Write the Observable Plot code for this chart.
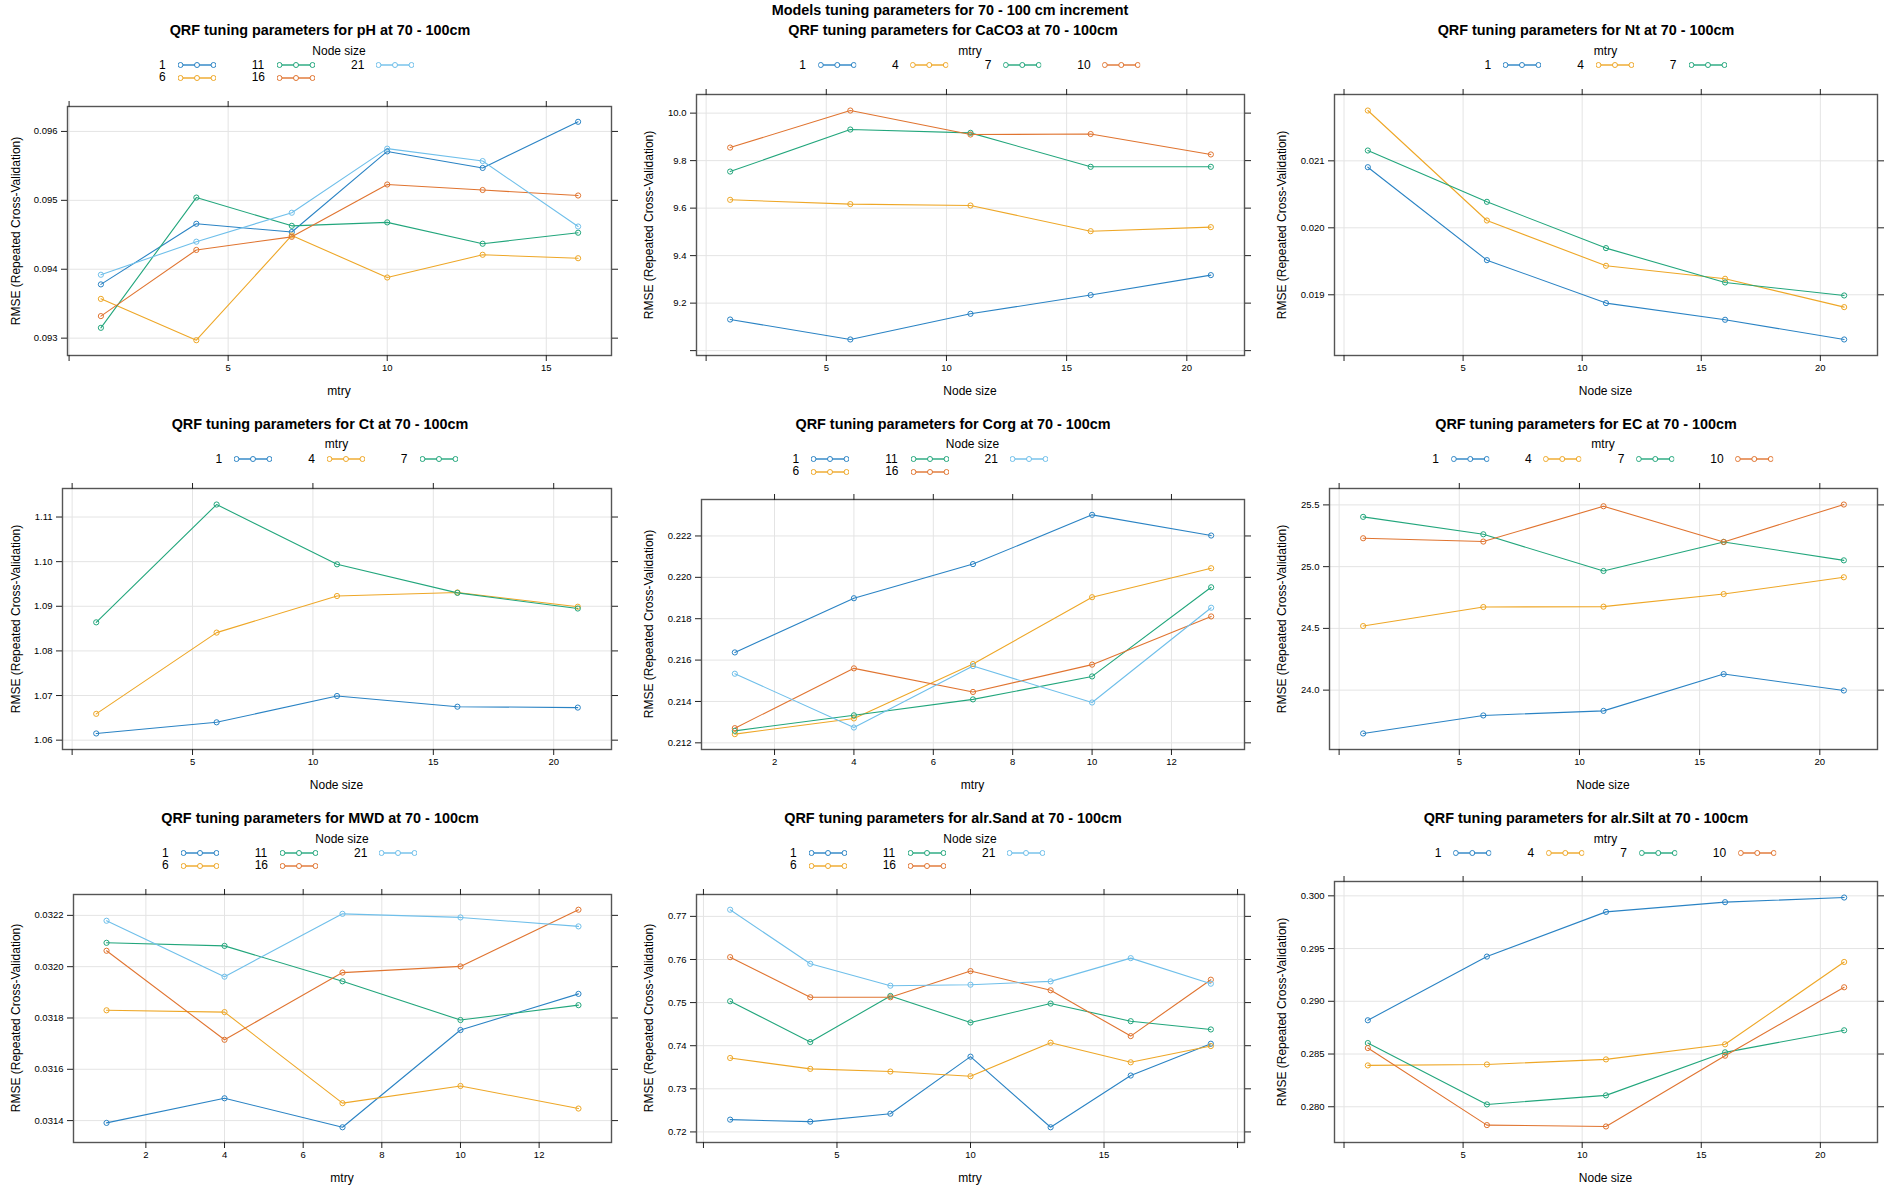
<!DOCTYPE html>
<html>
<head>
<meta charset="utf-8">
<script src="https://cdn.jsdelivr.net/npm/d3@7"></script>
<script src="https://cdn.jsdelivr.net/npm/@observablehq/plot@0.6"></script>
<style>
  body { margin: 0; background: #fff; font-family: "Liberation Sans", Arial, Helvetica, sans-serif; color: #000; }
  #page { position: relative; width: 1900px; height: 1200px; overflow: hidden; background: #fff; }
  .abs { position: absolute; white-space: nowrap; }
  .ctr { transform: translate(-50%, -50%); }
  .ptitle { font-weight: bold; font-size: 14.4px; }
  .lbl { font-size: 12px; }
  .ylab { font-size: 12px; transform: translate(-50%, -50%) rotate(-90deg); }
  .legcol { display: grid; grid-template-columns: auto 38px; column-gap: 12px; grid-auto-rows: 12.5px; align-items: center; font-size: 12px; line-height: 12.5px; }
  .legitems { display: flex; column-gap: 36px; }
</style>
</head>
<body>
<div id="page"></div>
<script>
// ---------------- data ----------------
const mainTitle = "Models tuning parameters for 70 - 100 cm increment";
const nodeSizeGroups = ["1", "6", "11", "16", "21"];
const mtryGroups3 = ["1", "4", "7"];
const mtryGroups4 = ["1", "4", "7", "10"];
const nodeSizeX = [1, 6, 11, 16, 21];

// pH : x = mtry, groups = node size
const pH_x = [1, 4, 7, 10, 13, 16];
const pH_rmse = [
  [0.09378, 0.09466, 0.09454, 0.09571, 0.09547, 0.09614],
  [0.09357, 0.09297, 0.09449, 0.09388, 0.09421, 0.09416],
  [0.09315, 0.09504, 0.09463, 0.09468, 0.09437, 0.09453],
  [0.09332, 0.09428, 0.09447, 0.09523, 0.09515, 0.09507],
  [0.09392, 0.09440, 0.09482, 0.09575, 0.09557, 0.09462]
];
const pH_xTicks = [0, 5, 10, 15];
const pH_yTicks = [0.093, 0.094, 0.095, 0.096];

// CaCO3 : x = node size, groups = mtry
const CaCO3_rmse = [
  [9.131, 9.047, 9.155, 9.234, 9.318],
  [9.635, 9.617, 9.611, 9.503, 9.520],
  [9.754, 9.931, 9.917, 9.774, 9.774],
  [9.855, 10.011, 9.910, 9.912, 9.826]
];
const CaCO3_xTicks = [0, 5, 10, 15, 20];
const CaCO3_yTicks = [9.0, 9.2, 9.4, 9.6, 9.8, 10.0];

// Nt
const Nt_rmse = [
  [0.020905, 0.019517, 0.018876, 0.018627, 0.018333],
  [0.021751, 0.020109, 0.019433, 0.019239, 0.018816],
  [0.021154, 0.020388, 0.019697, 0.019184, 0.018990]
];
const Nt_xTicks = [0, 5, 10, 15, 20];
const Nt_yTicks = [0.019, 0.020, 0.021];

// Ct
const Ct_rmse = [
  [1.0615, 1.0640, 1.0699, 1.0675, 1.0673],
  [1.0659, 1.0841, 1.0923, 1.0931, 1.0899],
  [1.0864, 1.1128, 1.0994, 1.0930, 1.0895]
];
const Ct_xTicks = [0, 5, 10, 15, 20];
const Ct_yTicks = [1.06, 1.07, 1.08, 1.09, 1.10, 1.11];

// Corg : x = mtry, groups = node size
const Corg_x = [1, 4, 7, 10, 13];
const Corg_rmse = [
  [0.21637, 0.21899, 0.22064, 0.22302, 0.22202],
  [0.21242, 0.21318, 0.21581, 0.21904, 0.22044],
  [0.21258, 0.21333, 0.21410, 0.21521, 0.21952],
  [0.21271, 0.21560, 0.21446, 0.21578, 0.21811],
  [0.21534, 0.21274, 0.21571, 0.21395, 0.21853]
];
const Corg_xTicks = [2, 4, 6, 8, 10, 12];
const Corg_yTicks = [0.212, 0.214, 0.216, 0.218, 0.220, 0.222];

// EC
const EC_rmse = [
  [23.649, 23.795, 23.832, 24.130, 23.997],
  [24.519, 24.673, 24.676, 24.778, 24.914],
  [25.403, 25.262, 24.965, 25.200, 25.051],
  [25.230, 25.203, 25.489, 25.200, 25.503]
];
const EC_xTicks = [0, 5, 10, 15, 20];
const EC_yTicks = [24.0, 24.5, 25.0, 25.5];

// MWD : x = mtry, groups = node size
const MWD_x = [1, 4, 7, 10, 13];
const MWD_rmse = [
  [0.031391, 0.031487, 0.031374, 0.031753, 0.031894],
  [0.031830, 0.031823, 0.031468, 0.031535, 0.031447],
  [0.032093, 0.032081, 0.031943, 0.031792, 0.031850],
  [0.032062, 0.031715, 0.031977, 0.032001, 0.032222],
  [0.032179, 0.031961, 0.032206, 0.032192, 0.032157]
];
const MWD_xTicks = [2, 4, 6, 8, 10, 12];
const MWD_yTicks = [0.0314, 0.0316, 0.0318, 0.0320, 0.0322];

// alr.Sand : x = mtry, groups = node size
const Sand_x = [1, 4, 7, 10, 13, 16, 19];
const Sand_rmse = [
  [0.72285, 0.72238, 0.72423, 0.73746, 0.72108, 0.73308, 0.74046],
  [0.73715, 0.73462, 0.73400, 0.73292, 0.74069, 0.73615, 0.73992],
  [0.75031, 0.74085, 0.75154, 0.74538, 0.74977, 0.74569, 0.74377],
  [0.76054, 0.75123, 0.75123, 0.75731, 0.75285, 0.74223, 0.75531],
  [0.77154, 0.75900, 0.75392, 0.75415, 0.75492, 0.76031, 0.75438]
];
const Sand_xTicks = [0, 5, 10, 15, 20];
const Sand_yTicks = [0.72, 0.73, 0.74, 0.75, 0.76, 0.77];

// alr.Silt : x = node size, groups = mtry
const Silt_rmse = [
  [0.28820, 0.29424, 0.29848, 0.29940, 0.29984],
  [0.28392, 0.28401, 0.28449, 0.28592, 0.29373],
  [0.28604, 0.28022, 0.28108, 0.28516, 0.28725],
  [0.28557, 0.27826, 0.27813, 0.28484, 0.29133]
];
const Silt_xTicks = [0, 5, 10, 15, 20];
const Silt_yTicks = [0.280, 0.285, 0.290, 0.295, 0.300];

// ---------------- panel table (built from the arrays above) ----------------
const panels = [
  { name: "pH",       xLabel: "mtry",      legTitle: "Node size", groups: nodeSizeGroups, x: pH_x,      rmse: pH_rmse,    xTicks: pH_xTicks,    yTicks: pH_yTicks },
  { name: "CaCO3",    xLabel: "Node size", legTitle: "mtry",      groups: mtryGroups4,    x: nodeSizeX, rmse: CaCO3_rmse, xTicks: CaCO3_xTicks, yTicks: CaCO3_yTicks },
  { name: "Nt",       xLabel: "Node size", legTitle: "mtry",      groups: mtryGroups3,    x: nodeSizeX, rmse: Nt_rmse,    xTicks: Nt_xTicks,    yTicks: Nt_yTicks },
  { name: "Ct",       xLabel: "Node size", legTitle: "mtry",      groups: mtryGroups3,    x: nodeSizeX, rmse: Ct_rmse,    xTicks: Ct_xTicks,    yTicks: Ct_yTicks },
  { name: "Corg",     xLabel: "mtry",      legTitle: "Node size", groups: nodeSizeGroups, x: Corg_x,    rmse: Corg_rmse,  xTicks: Corg_xTicks,  yTicks: Corg_yTicks },
  { name: "EC",       xLabel: "Node size", legTitle: "mtry",      groups: mtryGroups4,    x: nodeSizeX, rmse: EC_rmse,    xTicks: EC_xTicks,    yTicks: EC_yTicks },
  { name: "MWD",      xLabel: "mtry",      legTitle: "Node size", groups: nodeSizeGroups, x: MWD_x,     rmse: MWD_rmse,   xTicks: MWD_xTicks,   yTicks: MWD_yTicks },
  { name: "alr.Sand", xLabel: "mtry",      legTitle: "Node size", groups: nodeSizeGroups, x: Sand_x,    rmse: Sand_rmse,  xTicks: Sand_xTicks,  yTicks: Sand_yTicks },
  { name: "alr.Silt", xLabel: "Node size", legTitle: "mtry",      groups: mtryGroups4,    x: nodeSizeX, rmse: Silt_rmse,  xTicks: Silt_xTicks,  yTicks: Silt_yTicks }
];

// ---------------- layout & style ----------------
const palette = ["#2a83c4", "#eea727", "#22a67c", "#e07430", "#6fbfea"];
const colLeft = [0, 633, 1266];
const colWidth = [633, 633, 634];
const rowTop = [0, 400, 800];
const boxLefts = [67, 63, 68, 62, 68, 63, 73, 63, 68];
const boxRight = 611;
const rowTitleY = [30, 24, 18];
const rowLegTitleY = [51, 44, 39];
const rowLegY = [65, 59, 53];
const rowBoxTop1 = [94, 88, 81];
const rowBoxTop2 = [106, 99, 94];
const rowBoxBottom = [355, 349, 342];
const FONT = '"Liberation Sans", Arial, Helvetica, sans-serif';

const page = document.getElementById("page");

function addDiv(cls, text, left, top) {
  const d = document.createElement("div");
  d.className = "abs " + cls;
  d.textContent = text;
  d.style.left = left + "px";
  d.style.top = top + "px";
  page.appendChild(d);
  return d;
}

addDiv("ctr ptitle", mainTitle, 950, 10);

function swatch(color) {
  const ns = "http://www.w3.org/2000/svg";
  const s = document.createElementNS(ns, "svg");
  s.setAttribute("width", 38); s.setAttribute("height", 12);
  const l = document.createElementNS(ns, "line");
  l.setAttribute("x1", 2.5); l.setAttribute("x2", 35.5); l.setAttribute("y1", 6); l.setAttribute("y2", 6);
  l.setAttribute("stroke", color); l.setAttribute("stroke-width", 2); l.setAttribute("stroke-opacity", 0.7);
  s.appendChild(l);
  [2.5, 19, 35.5].forEach(cx => {
    const c = document.createElementNS(ns, "circle");
    c.setAttribute("cx", cx); c.setAttribute("cy", 6); c.setAttribute("r", 2.5);
    c.setAttribute("fill", "#fff"); c.setAttribute("stroke", color); c.setAttribute("stroke-width", 1);
    s.appendChild(c);
  });
  return s;
}

panels.forEach((p, idx) => {
  const r = Math.floor(idx / 3), c = idx % 3;
  const L = colLeft[c], T = rowTop[r], W = colWidth[c];
  const twoRows = p.groups.length > 4;
  const boxTop = twoRows ? rowBoxTop2[r] : rowBoxTop1[r];
  const boxBottom = rowBoxBottom[r];
  const boxLeft = boxLefts[idx];
  const boxCx = L + (boxLeft + boxRight) / 2;

  // titles
  addDiv("ctr ptitle", `QRF tuning parameters for ${p.name} at 70 - 100cm`, L + 320, T + rowTitleY[r]);
  addDiv("ctr lbl", p.legTitle, boxCx, T + rowLegTitleY[r]);

  // legend
  const items = document.createElement("div");
  items.className = "abs legitems";
  items.style.top = (T + rowLegY[r] - 6.25) + "px";
  if (twoRows) {
    items.style.left = (boxCx - 180) + "px";
  } else {
    items.style.left = boxCx + "px";
    items.style.transform = "translateX(-50%)";
  }
  const cols = [];
  if (twoRows) {
    for (let i = 0; i < p.groups.length; i += 2) cols.push([i, i + 1].filter(k => k < p.groups.length));
  } else {
    p.groups.forEach((g, i) => cols.push([i]));
  }
  cols.forEach(col => {
    const cd = document.createElement("div");
    cd.className = "legcol";
    col.forEach(k => {
      const t = document.createElement("div");
      t.textContent = p.groups[k];
      cd.appendChild(t);
      cd.appendChild(swatch(palette[k]));
    });
    items.appendChild(cd);
  });
  page.appendChild(items);

  // axis titles
  addDiv("ctr lbl", p.xLabel, boxCx, T + boxBottom + 36);
  addDiv("ylab", "RMSE (Repeated Cross-Validation)", L + 16, T + (boxTop + boxBottom) / 2);

  // data rows
  const rows = [];
  p.rmse.forEach((vals, gi) => vals.forEach((v, i) => rows.push({ x: p.x[i], y: v, g: p.groups[gi] })));
  const [x0, x1] = d3.extent(p.x);
  const [y0, y1] = d3.extent(rows, d => d.y);
  const xp = (x1 - x0) * 0.07, yp = (y1 - y0) * 0.07;
  const fy = d3.format("." + d3.precisionFixed(p.yTicks[1] - p.yTicks[0]) + "f");
  const fx = d3.format("d");
  // ticks near the padded edge (beyond the data range by more than 4%) carry no label
  const inRange = (lo, hi, f) => { const e = (hi - lo) * 0.04; return d => (d >= lo - e && d <= hi + e) ? f(d) : ""; };
  const mTop = 8, mBottom = 24;

  const chart = Plot.plot({
    width: W,
    height: boxBottom - boxTop + mTop + mBottom,
    marginLeft: boxLeft,
    marginRight: W - boxRight,
    marginTop: mTop,
    marginBottom: mBottom,
    x: { domain: [x0 - xp, x1 + xp] },
    y: { domain: [y0 - yp, y1 + yp] },
    color: { domain: p.groups, range: palette.slice(0, p.groups.length) },
    style: { fontFamily: FONT, fontSize: "9.5px", background: "transparent", overflow: "visible", color: "#000" },
    marks: [
      Plot.gridX({ ticks: p.xTicks, stroke: "#e4e4e4", strokeOpacity: 1 }),
      Plot.gridY({ ticks: p.yTicks, stroke: "#e4e4e4", strokeOpacity: 1 }),
      Plot.line(rows, { x: "x", y: "y", z: "g", stroke: "g", strokeWidth: 1.1 }),
      Plot.dot(rows, { x: "x", y: "y", stroke: "g", r: 2.6, strokeWidth: 1, fill: "none" }),
      Plot.frame({ stroke: "#555", strokeWidth: 1.4 }),
      Plot.axisX({ ticks: p.xTicks, anchor: "bottom", tickSize: 6, tickPadding: 3, tickFormat: inRange(x0, x1, fx), label: null, stroke: "#222" }),
      Plot.axisX({ ticks: p.xTicks, anchor: "top", tickSize: 6, tickFormat: () => "", label: null, stroke: "#222" }),
      Plot.axisY({ ticks: p.yTicks, anchor: "left", tickSize: 6, tickPadding: 4, tickFormat: inRange(y0, y1, fy), label: null, stroke: "#222" }),
      Plot.axisY({ ticks: p.yTicks, anchor: "right", tickSize: 6, tickFormat: () => "", label: null, stroke: "#222" })
    ]
  });
  chart.style.position = "absolute";
  chart.style.left = L + "px";
  chart.style.top = (T + boxTop - mTop) + "px";
  page.appendChild(chart);
});
</script>
</body>
</html>
